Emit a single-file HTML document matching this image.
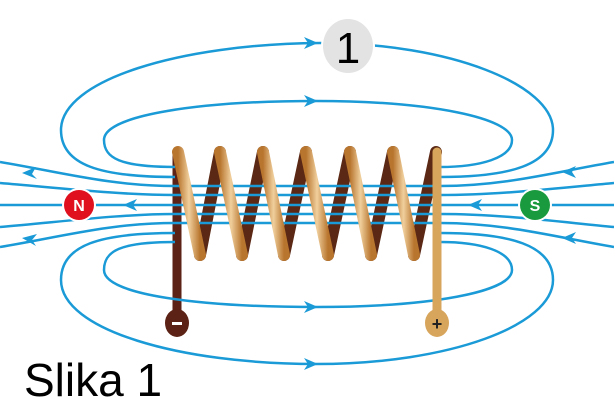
<!DOCTYPE html>
<html><head><meta charset="utf-8"><style>
html,body{margin:0;padding:0;background:#fff;width:614px;height:410px;overflow:hidden}
svg{display:block}
</style></head><body>
<svg width="614" height="410" viewBox="0 0 614 410" xmlns="http://www.w3.org/2000/svg">
<defs>
<linearGradient id="g" x1="0" y1="0" x2="1" y2="0">
<stop offset="0" stop-color="#b8752e"/><stop offset="0.5" stop-color="#f0cf9c"/><stop offset="1" stop-color="#b8752e"/>
</linearGradient>
</defs>
<!-- dark back strands -->
<g stroke="#5a2814" stroke-width="12" stroke-linecap="round" fill="none">
<line x1="200" y1="255" x2="220" y2="152"/>
<line x1="242" y1="255" x2="263" y2="152"/>
<line x1="284" y1="255" x2="306" y2="152"/>
<line x1="328" y1="255" x2="350" y2="152"/>
<line x1="371" y1="255" x2="393" y2="152"/>
<line x1="414" y1="255" x2="436" y2="152"/>
</g>
<!-- left lead -->
<line x1="177" y1="152" x2="177" y2="315" stroke="#5b2215" stroke-width="9"/>
<ellipse cx="177" cy="323" rx="12" ry="14" fill="#5b2215"/>
<rect x="172" y="322" width="10" height="3" fill="#fff"/>
<!-- field lines -->
<g stroke="#1a9ad6" stroke-width="2.5" fill="none">
<path d="M175,177 C100,177 61,165 61,130 C61,80 180,44 320,43 C450,43 553,85 553,130 C553,165 510,177 440,177"/>
<path d="M175,167 C120,167 104,158 104,140 C104,115 200,101 316,101 C430,101 512,118 512,140 C512,158 480,167 440,167"/>
<path d="M175,233 C100,233 61,245 61,280 C61,330 180,364 316,364 C450,364 553,325 553,280 C553,245 510,233 440,233"/>
<path d="M175,242 C120,242 104,251 104,270 C104,295 200,307 316,307 C430,307 512,292 512,270 C512,251 480,242 440,242"/>
<path d="M0,205 L614,205"/>
<path d="M0,183 C60,188 120,195 175,195 L440,195 C500,195 560,188 614,183"/>
<path d="M0,227 C60,222 120,214 175,214 L440,214 C500,214 560,222 614,227"/>
<path d="M0,162 C60,172 110,186 175,186 L440,186 C505,186 555,172 614,162"/>
<path d="M0,247 C60,237 110,223 175,223 L440,223 C505,223 555,237 614,247"/>
</g>
<!-- arrowheads -->
<g fill="#1a9ad6">
<path d="M318,43 l-14,-6 l4,6 l-4,6 z"/>
<path d="M318,101 l-14,-6 l4,6 l-4,6 z"/>
<path d="M318,307 l-14,-6 l4,6 l-4,6 z"/>
<path d="M318,364 l-14,-6 l4,6 l-4,6 z"/>
<path d="M22,173 l14,-6 l-4,7 l5,5 z"/>
<path d="M22,238 l15,-4 l-5,6 l4,6 z"/>
<path d="M123,205 l14,-6 l-4,6 l4,6 z"/>
<path d="M468,205 l14,-6 l-4,6 l4,6 z"/>
<path d="M562,172 l14,-6 l-4,6 l4,6 z"/>
<path d="M562,238 l14,-6 l-4,6 l4,6 z"/>
</g>
<!-- light front strands -->
<g stroke="url(#g)" stroke-width="12" stroke-linecap="round" fill="none">
<line x1="178" y1="152" x2="200" y2="255"/>
<line x1="220" y1="152" x2="242" y2="255"/>
<line x1="263" y1="152" x2="284" y2="255"/>
<line x1="306" y1="152" x2="328" y2="255"/>
<line x1="350" y1="152" x2="371" y2="255"/>
<line x1="393" y1="152" x2="414" y2="255"/>
</g>
<!-- right lead -->
<line x1="437" y1="152" x2="437" y2="315" stroke="#d8a55c" stroke-width="9" stroke-linecap="round"/>
<ellipse cx="437" cy="323" rx="12" ry="14" fill="#d8a55c"/>
<text x="437" y="330" font-family="Liberation Sans, sans-serif" font-size="18" font-weight="bold" text-anchor="middle" fill="#222">+</text>
<!-- poles -->
<circle cx="79" cy="205" r="17" fill="#fff"/>
<circle cx="79" cy="205" r="15" fill="#e0101e"/>
<text x="79" y="211" font-family="Liberation Sans, sans-serif" font-size="16" font-weight="bold" text-anchor="middle" fill="#fff">N</text>
<circle cx="535" cy="205" r="17" fill="#fff"/>
<circle cx="535" cy="205" r="15" fill="#1a9a3e"/>
<text x="535" y="211" font-family="Liberation Sans, sans-serif" font-size="16" font-weight="bold" text-anchor="middle" fill="#fff">S</text>
<!-- label 1 -->
<ellipse cx="348" cy="46" rx="27" ry="28" fill="#fff"/>
<ellipse cx="348" cy="46" rx="25" ry="27" fill="#e3e3e3"/>
<text x="348" y="63" font-family="Liberation Sans, sans-serif" font-size="44" text-anchor="middle" fill="#000">1</text>
<text x="24" y="396" font-family="Liberation Sans, sans-serif" font-size="46" fill="#000">Slika 1</text>
</svg>
</body></html>
